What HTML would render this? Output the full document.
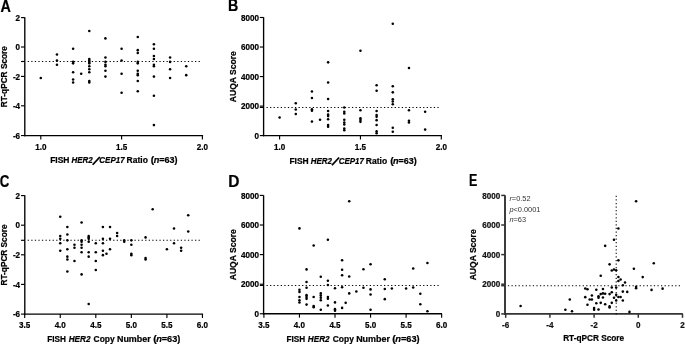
<!DOCTYPE html>
<html lang="en"><head><meta charset="utf-8"><title>Figure</title>
<style>html,body{margin:0;padding:0;background:#fff}svg{display:block}text{font-family:'Liberation Sans', sans-serif}</style></head><body>
<svg width="685" height="344" viewBox="0 0 685 344">
<rect width="685" height="344" fill="#fff"/>
<line x1="24.80" y1="17.30" x2="24.80" y2="136.23" stroke="#000" stroke-width="1.35" />
<line x1="24.12" y1="135.55" x2="203.10" y2="135.55" stroke="#000" stroke-width="1.35" />
<line x1="21.00" y1="17.60" x2="24.80" y2="17.60" stroke="#000" stroke-width="1.15" />
<text x="20.10" y="20.70" font-size="8.8" font-weight="bold" text-anchor="end" fill="#000" stroke="#000" stroke-width="0.22" textLength="4.5" lengthAdjust="spacingAndGlyphs" >2</text>
<line x1="21.00" y1="47.00" x2="24.80" y2="47.00" stroke="#000" stroke-width="1.15" />
<text x="20.10" y="50.10" font-size="8.8" font-weight="bold" text-anchor="end" fill="#000" stroke="#000" stroke-width="0.22" textLength="4.5" lengthAdjust="spacingAndGlyphs" >0</text>
<line x1="21.00" y1="76.40" x2="24.80" y2="76.40" stroke="#000" stroke-width="1.15" />
<text x="20.10" y="79.50" font-size="8.8" font-weight="bold" text-anchor="end" fill="#000" stroke="#000" stroke-width="0.22" textLength="7.2" lengthAdjust="spacingAndGlyphs" >-2</text>
<line x1="21.00" y1="105.80" x2="24.80" y2="105.80" stroke="#000" stroke-width="1.15" />
<text x="20.10" y="108.90" font-size="8.8" font-weight="bold" text-anchor="end" fill="#000" stroke="#000" stroke-width="0.22" textLength="7.2" lengthAdjust="spacingAndGlyphs" >-4</text>
<line x1="21.00" y1="135.55" x2="24.80" y2="135.55" stroke="#000" stroke-width="1.15" />
<text x="20.10" y="138.65" font-size="8.8" font-weight="bold" text-anchor="end" fill="#000" stroke="#000" stroke-width="0.22" textLength="7.2" lengthAdjust="spacingAndGlyphs" >-6</text>
<line x1="40.80" y1="135.55" x2="40.80" y2="139.45" stroke="#000" stroke-width="1.15" />
<text x="40.80" y="150.10" font-size="8.8" font-weight="bold" text-anchor="middle" fill="#000" stroke="#000" stroke-width="0.22" textLength="11.25" lengthAdjust="spacingAndGlyphs" >1.0</text>
<line x1="121.60" y1="135.55" x2="121.60" y2="139.45" stroke="#000" stroke-width="1.15" />
<text x="121.60" y="150.10" font-size="8.8" font-weight="bold" text-anchor="middle" fill="#000" stroke="#000" stroke-width="0.22" textLength="11.25" lengthAdjust="spacingAndGlyphs" >1.5</text>
<line x1="202.40" y1="135.55" x2="202.40" y2="139.45" stroke="#000" stroke-width="1.15" />
<text x="202.40" y="150.10" font-size="8.8" font-weight="bold" text-anchor="middle" fill="#000" stroke="#000" stroke-width="0.22" textLength="11.25" lengthAdjust="spacingAndGlyphs" >2.0</text>
<text font-size="9.0" font-weight="bold" fill="#000" stroke="#000" stroke-width="0.22"><tspan x="50.15" y="163.20" textLength="19.30" lengthAdjust="spacingAndGlyphs">FISH</tspan> <tspan x="71.45" y="163.20" font-style="italic" textLength="21.30" lengthAdjust="spacingAndGlyphs">HER2</tspan><tspan x="91.90" y="164.10" font-size="14" rotate="32" stroke-width="0">/</tspan><tspan x="99.35" y="163.20" font-style="italic" textLength="25.30" lengthAdjust="spacingAndGlyphs">CEP17</tspan> <tspan x="126.55" y="163.20" textLength="21.30" lengthAdjust="spacingAndGlyphs">Ratio</tspan> <tspan x="150.85" y="163.20" textLength="3.40" lengthAdjust="spacingAndGlyphs">(</tspan><tspan x="153.75" y="163.20" font-style="italic" textLength="5.60" lengthAdjust="spacingAndGlyphs">n</tspan><tspan x="159.25" y="163.20" textLength="18.20" lengthAdjust="spacingAndGlyphs">=63)</tspan></text>
<text x="7.00" y="76.68" font-size="9.0" font-weight="bold" text-anchor="middle" fill="#000" stroke="#000" stroke-width="0.22" textLength="61" lengthAdjust="spacingAndGlyphs" transform="rotate(-90 7.00 76.68)">RT-qPCR Score</text>
<text x="0.40" y="11.80" font-size="15.8" font-weight="bold" text-anchor="start" fill="#000" stroke="#000" stroke-width="0.22" textLength="10.4" lengthAdjust="spacingAndGlyphs" >A</text>
<line x1="21.00" y1="61.50" x2="24.80" y2="61.50" stroke="#000" stroke-width="1.15" />
<line x1="27.70" y1="61.50" x2="201.50" y2="61.50" stroke="#000" stroke-width="1.05" stroke-dasharray="1.25 2.31"/>
<g fill="#000"><circle cx="40.80" cy="78.07" r="1.28"/><circle cx="56.96" cy="54.55" r="1.28"/><circle cx="56.96" cy="60.43" r="1.28"/><circle cx="56.96" cy="64.84" r="1.28"/><circle cx="73.12" cy="48.67" r="1.28"/><circle cx="73.12" cy="61.90" r="1.28"/><circle cx="73.12" cy="63.37" r="1.28"/><circle cx="73.12" cy="72.19" r="1.28"/><circle cx="73.12" cy="79.54" r="1.28"/><circle cx="73.12" cy="82.48" r="1.28"/><circle cx="81.20" cy="73.66" r="1.28"/><circle cx="89.28" cy="31.03" r="1.28"/><circle cx="89.28" cy="58.96" r="1.28"/><circle cx="89.28" cy="60.43" r="1.28"/><circle cx="89.28" cy="61.90" r="1.28"/><circle cx="89.28" cy="63.37" r="1.28"/><circle cx="89.28" cy="66.31" r="1.28"/><circle cx="89.28" cy="69.25" r="1.28"/><circle cx="89.28" cy="72.19" r="1.28"/><circle cx="89.28" cy="81.01" r="1.28"/><circle cx="89.28" cy="82.48" r="1.28"/><circle cx="105.44" cy="38.38" r="1.28"/><circle cx="105.44" cy="57.49" r="1.28"/><circle cx="105.44" cy="61.90" r="1.28"/><circle cx="105.44" cy="64.84" r="1.28"/><circle cx="105.44" cy="66.31" r="1.28"/><circle cx="105.44" cy="70.72" r="1.28"/><circle cx="105.44" cy="76.60" r="1.28"/><circle cx="121.60" cy="48.67" r="1.28"/><circle cx="121.60" cy="60.43" r="1.28"/><circle cx="121.60" cy="73.66" r="1.28"/><circle cx="121.60" cy="92.77" r="1.28"/><circle cx="137.76" cy="36.91" r="1.28"/><circle cx="137.76" cy="50.14" r="1.28"/><circle cx="137.76" cy="53.08" r="1.28"/><circle cx="137.76" cy="61.90" r="1.28"/><circle cx="137.76" cy="63.37" r="1.28"/><circle cx="137.76" cy="70.72" r="1.28"/><circle cx="137.76" cy="73.66" r="1.28"/><circle cx="137.76" cy="75.13" r="1.28"/><circle cx="137.76" cy="81.01" r="1.28"/><circle cx="137.76" cy="91.30" r="1.28"/><circle cx="153.92" cy="44.26" r="1.28"/><circle cx="153.92" cy="48.67" r="1.28"/><circle cx="153.92" cy="56.02" r="1.28"/><circle cx="153.92" cy="58.96" r="1.28"/><circle cx="153.92" cy="64.84" r="1.28"/><circle cx="153.92" cy="66.31" r="1.28"/><circle cx="153.92" cy="76.60" r="1.28"/><circle cx="153.92" cy="95.71" r="1.28"/><circle cx="153.92" cy="125.11" r="1.28"/><circle cx="170.08" cy="57.49" r="1.28"/><circle cx="170.08" cy="61.90" r="1.28"/><circle cx="170.08" cy="69.25" r="1.28"/><circle cx="170.08" cy="78.07" r="1.28"/><circle cx="186.24" cy="66.31" r="1.28"/><circle cx="186.24" cy="75.13" r="1.28"/></g>
<line x1="263.60" y1="17.20" x2="263.60" y2="136.28" stroke="#000" stroke-width="1.35" />
<line x1="262.93" y1="135.60" x2="442.00" y2="135.60" stroke="#000" stroke-width="1.35" />
<line x1="259.80" y1="17.49" x2="263.60" y2="17.49" stroke="#000" stroke-width="1.15" />
<text x="258.90" y="20.59" font-size="8.8" font-weight="bold" text-anchor="end" fill="#000" stroke="#000" stroke-width="0.22" textLength="18.01" lengthAdjust="spacingAndGlyphs" >8000</text>
<line x1="259.80" y1="47.03" x2="263.60" y2="47.03" stroke="#000" stroke-width="1.15" />
<text x="258.90" y="50.13" font-size="8.8" font-weight="bold" text-anchor="end" fill="#000" stroke="#000" stroke-width="0.22" textLength="18.01" lengthAdjust="spacingAndGlyphs" >6000</text>
<line x1="259.80" y1="76.57" x2="263.60" y2="76.57" stroke="#000" stroke-width="1.15" />
<text x="258.90" y="79.67" font-size="8.8" font-weight="bold" text-anchor="end" fill="#000" stroke="#000" stroke-width="0.22" textLength="18.01" lengthAdjust="spacingAndGlyphs" >4000</text>
<line x1="259.80" y1="106.11" x2="263.60" y2="106.11" stroke="#000" stroke-width="1.15" />
<text x="258.90" y="109.21" font-size="8.8" font-weight="bold" text-anchor="end" fill="#000" stroke="#000" stroke-width="0.22" textLength="18.01" lengthAdjust="spacingAndGlyphs" >2000</text>
<line x1="259.80" y1="135.60" x2="263.60" y2="135.60" stroke="#000" stroke-width="1.15" />
<text x="258.90" y="138.70" font-size="8.8" font-weight="bold" text-anchor="end" fill="#000" stroke="#000" stroke-width="0.22" textLength="4.5" lengthAdjust="spacingAndGlyphs" >0</text>
<line x1="279.60" y1="135.60" x2="279.60" y2="139.50" stroke="#000" stroke-width="1.15" />
<text x="279.60" y="150.10" font-size="8.8" font-weight="bold" text-anchor="middle" fill="#000" stroke="#000" stroke-width="0.22" textLength="11.25" lengthAdjust="spacingAndGlyphs" >1.0</text>
<line x1="360.45" y1="135.60" x2="360.45" y2="139.50" stroke="#000" stroke-width="1.15" />
<text x="360.45" y="150.10" font-size="8.8" font-weight="bold" text-anchor="middle" fill="#000" stroke="#000" stroke-width="0.22" textLength="11.25" lengthAdjust="spacingAndGlyphs" >1.5</text>
<line x1="441.30" y1="135.60" x2="441.30" y2="139.50" stroke="#000" stroke-width="1.15" />
<text x="441.30" y="150.10" font-size="8.8" font-weight="bold" text-anchor="middle" fill="#000" stroke="#000" stroke-width="0.22" textLength="11.25" lengthAdjust="spacingAndGlyphs" >2.0</text>
<text font-size="9.0" font-weight="bold" fill="#000" stroke="#000" stroke-width="0.22"><tspan x="289.45" y="163.70" textLength="19.30" lengthAdjust="spacingAndGlyphs">FISH</tspan> <tspan x="310.75" y="163.70" font-style="italic" textLength="21.30" lengthAdjust="spacingAndGlyphs">HER2</tspan><tspan x="331.20" y="164.60" font-size="14" rotate="32" stroke-width="0">/</tspan><tspan x="338.65" y="163.70" font-style="italic" textLength="25.30" lengthAdjust="spacingAndGlyphs">CEP17</tspan> <tspan x="365.85" y="163.70" textLength="21.30" lengthAdjust="spacingAndGlyphs">Ratio</tspan> <tspan x="390.15" y="163.70" textLength="3.40" lengthAdjust="spacingAndGlyphs">(</tspan><tspan x="393.05" y="163.70" font-style="italic" textLength="5.60" lengthAdjust="spacingAndGlyphs">n</tspan><tspan x="398.55" y="163.70" textLength="18.20" lengthAdjust="spacingAndGlyphs">=63)</tspan></text>
<text x="236.00" y="76.65" font-size="9.0" font-weight="bold" text-anchor="middle" fill="#000" stroke="#000" stroke-width="0.22" textLength="51" lengthAdjust="spacingAndGlyphs" transform="rotate(-90 236.00 76.65)">AUQA Score</text>
<text x="228.10" y="11.00" font-size="15.8" font-weight="bold" text-anchor="start" fill="#000" stroke="#000" stroke-width="0.22" textLength="10.3" lengthAdjust="spacingAndGlyphs" >B</text>
<line x1="259.80" y1="107.40" x2="263.60" y2="107.40" stroke="#000" stroke-width="1.15" />
<line x1="266.50" y1="107.40" x2="440.50" y2="107.40" stroke="#000" stroke-width="1.05" stroke-dasharray="1.25 2.31"/>
<g fill="#000"><circle cx="279.60" cy="117.42" r="1.28"/><circle cx="295.77" cy="103.16" r="1.28"/><circle cx="295.77" cy="109.48" r="1.28"/><circle cx="295.77" cy="114.04" r="1.28"/><circle cx="311.94" cy="91.55" r="1.28"/><circle cx="311.94" cy="97.94" r="1.28"/><circle cx="311.94" cy="109.19" r="1.28"/><circle cx="311.94" cy="110.66" r="1.28"/><circle cx="311.94" cy="121.61" r="1.28"/><circle cx="320.03" cy="119.70" r="1.28"/><circle cx="328.11" cy="62.37" r="1.28"/><circle cx="328.11" cy="82.58" r="1.28"/><circle cx="328.11" cy="98.97" r="1.28"/><circle cx="328.11" cy="110.95" r="1.28"/><circle cx="328.11" cy="114.63" r="1.28"/><circle cx="328.11" cy="116.10" r="1.28"/><circle cx="328.11" cy="119.26" r="1.28"/><circle cx="328.11" cy="125.09" r="1.28"/><circle cx="328.11" cy="126.83" r="1.28"/><circle cx="344.28" cy="107.57" r="1.28"/><circle cx="344.28" cy="111.69" r="1.28"/><circle cx="344.28" cy="113.45" r="1.28"/><circle cx="344.28" cy="119.70" r="1.28"/><circle cx="344.28" cy="122.61" r="1.28"/><circle cx="344.28" cy="124.50" r="1.28"/><circle cx="344.28" cy="128.44" r="1.28"/><circle cx="344.28" cy="130.21" r="1.28"/><circle cx="360.45" cy="50.83" r="1.28"/><circle cx="360.45" cy="110.22" r="1.28"/><circle cx="360.45" cy="118.23" r="1.28"/><circle cx="360.45" cy="120.12" r="1.28"/><circle cx="360.45" cy="121.87" r="1.28"/><circle cx="376.62" cy="85.23" r="1.28"/><circle cx="376.62" cy="90.81" r="1.28"/><circle cx="376.62" cy="110.95" r="1.28"/><circle cx="376.62" cy="115.07" r="1.28"/><circle cx="376.62" cy="116.76" r="1.28"/><circle cx="376.62" cy="120.14" r="1.28"/><circle cx="376.62" cy="125.09" r="1.28"/><circle cx="376.62" cy="131.38" r="1.28"/><circle cx="376.62" cy="133.29" r="1.28"/><circle cx="392.79" cy="23.78" r="1.28"/><circle cx="392.79" cy="86.25" r="1.28"/><circle cx="392.79" cy="92.36" r="1.28"/><circle cx="392.79" cy="99.22" r="1.28"/><circle cx="392.79" cy="101.47" r="1.28"/><circle cx="392.79" cy="104.34" r="1.28"/><circle cx="392.79" cy="127.71" r="1.28"/><circle cx="392.79" cy="131.82" r="1.28"/><circle cx="408.96" cy="68.03" r="1.28"/><circle cx="408.96" cy="110.22" r="1.28"/><circle cx="408.96" cy="120.80" r="1.28"/><circle cx="408.96" cy="122.42" r="1.28"/><circle cx="425.13" cy="111.69" r="1.28"/><circle cx="425.13" cy="129.62" r="1.28"/></g>
<line x1="24.80" y1="195.30" x2="24.80" y2="314.78" stroke="#000" stroke-width="1.35" />
<line x1="24.12" y1="314.10" x2="203.10" y2="314.10" stroke="#000" stroke-width="1.35" />
<line x1="21.00" y1="195.60" x2="24.80" y2="195.60" stroke="#000" stroke-width="1.15" />
<text x="20.10" y="198.70" font-size="8.8" font-weight="bold" text-anchor="end" fill="#000" stroke="#000" stroke-width="0.22" textLength="4.5" lengthAdjust="spacingAndGlyphs" >2</text>
<line x1="21.00" y1="225.20" x2="24.80" y2="225.20" stroke="#000" stroke-width="1.15" />
<text x="20.10" y="228.30" font-size="8.8" font-weight="bold" text-anchor="end" fill="#000" stroke="#000" stroke-width="0.22" textLength="4.5" lengthAdjust="spacingAndGlyphs" >0</text>
<line x1="21.00" y1="254.80" x2="24.80" y2="254.80" stroke="#000" stroke-width="1.15" />
<text x="20.10" y="257.90" font-size="8.8" font-weight="bold" text-anchor="end" fill="#000" stroke="#000" stroke-width="0.22" textLength="7.2" lengthAdjust="spacingAndGlyphs" >-2</text>
<line x1="21.00" y1="284.40" x2="24.80" y2="284.40" stroke="#000" stroke-width="1.15" />
<text x="20.10" y="287.50" font-size="8.8" font-weight="bold" text-anchor="end" fill="#000" stroke="#000" stroke-width="0.22" textLength="7.2" lengthAdjust="spacingAndGlyphs" >-4</text>
<line x1="21.00" y1="314.10" x2="24.80" y2="314.10" stroke="#000" stroke-width="1.15" />
<text x="20.10" y="317.20" font-size="8.8" font-weight="bold" text-anchor="end" fill="#000" stroke="#000" stroke-width="0.22" textLength="7.2" lengthAdjust="spacingAndGlyphs" >-6</text>
<line x1="24.70" y1="314.10" x2="24.70" y2="318.00" stroke="#000" stroke-width="1.15" />
<text x="24.70" y="328.20" font-size="8.8" font-weight="bold" text-anchor="middle" fill="#000" stroke="#000" stroke-width="0.22" textLength="11.25" lengthAdjust="spacingAndGlyphs" >3.5</text>
<line x1="60.25" y1="314.10" x2="60.25" y2="318.00" stroke="#000" stroke-width="1.15" />
<text x="60.25" y="328.20" font-size="8.8" font-weight="bold" text-anchor="middle" fill="#000" stroke="#000" stroke-width="0.22" textLength="11.25" lengthAdjust="spacingAndGlyphs" >4.0</text>
<line x1="95.80" y1="314.10" x2="95.80" y2="318.00" stroke="#000" stroke-width="1.15" />
<text x="95.80" y="328.20" font-size="8.8" font-weight="bold" text-anchor="middle" fill="#000" stroke="#000" stroke-width="0.22" textLength="11.25" lengthAdjust="spacingAndGlyphs" >4.5</text>
<line x1="131.35" y1="314.10" x2="131.35" y2="318.00" stroke="#000" stroke-width="1.15" />
<text x="131.35" y="328.20" font-size="8.8" font-weight="bold" text-anchor="middle" fill="#000" stroke="#000" stroke-width="0.22" textLength="11.25" lengthAdjust="spacingAndGlyphs" >5.0</text>
<line x1="166.90" y1="314.10" x2="166.90" y2="318.00" stroke="#000" stroke-width="1.15" />
<text x="166.90" y="328.20" font-size="8.8" font-weight="bold" text-anchor="middle" fill="#000" stroke="#000" stroke-width="0.22" textLength="11.25" lengthAdjust="spacingAndGlyphs" >5.5</text>
<line x1="202.45" y1="314.10" x2="202.45" y2="318.00" stroke="#000" stroke-width="1.15" />
<text x="202.45" y="328.20" font-size="8.8" font-weight="bold" text-anchor="middle" fill="#000" stroke="#000" stroke-width="0.22" textLength="11.25" lengthAdjust="spacingAndGlyphs" >6.0</text>
<text font-size="9.0" font-weight="bold" fill="#000" stroke="#000" stroke-width="0.22"><tspan x="47.25" y="341.70" textLength="18.70" lengthAdjust="spacingAndGlyphs">FISH</tspan> <tspan x="68.65" y="341.70" font-style="italic" textLength="21.80" lengthAdjust="spacingAndGlyphs">HER2</tspan> <tspan x="93.55" y="341.70" textLength="21.10" lengthAdjust="spacingAndGlyphs">Copy</tspan> <tspan x="116.95" y="341.70" textLength="33.80" lengthAdjust="spacingAndGlyphs">Number</tspan> <tspan x="153.15" y="341.70" textLength="3.50" lengthAdjust="spacingAndGlyphs">(</tspan><tspan x="156.15" y="341.70" font-style="italic" textLength="5.70" lengthAdjust="spacingAndGlyphs">n</tspan><tspan x="161.75" y="341.70" textLength="18.60" lengthAdjust="spacingAndGlyphs">=63)</tspan></text>
<text x="7.00" y="254.95" font-size="9.0" font-weight="bold" text-anchor="middle" fill="#000" stroke="#000" stroke-width="0.22" textLength="61" lengthAdjust="spacingAndGlyphs" transform="rotate(-90 7.00 254.95)">RT-qPCR Score</text>
<text x="-0.20" y="186.60" font-size="15.8" font-weight="bold" text-anchor="start" fill="#000" stroke="#000" stroke-width="0.22" textLength="9.6" lengthAdjust="spacingAndGlyphs" >C</text>
<line x1="21.00" y1="240.30" x2="24.80" y2="240.30" stroke="#000" stroke-width="1.15" />
<line x1="27.70" y1="240.30" x2="201.50" y2="240.30" stroke="#000" stroke-width="1.05" stroke-dasharray="1.25 2.31"/>
<g fill="#000"><circle cx="60.25" cy="216.67" r="1.28"/><circle cx="60.25" cy="235.91" r="1.28"/><circle cx="60.25" cy="238.87" r="1.28"/><circle cx="60.25" cy="243.31" r="1.28"/><circle cx="60.25" cy="250.71" r="1.28"/><circle cx="67.36" cy="227.03" r="1.28"/><circle cx="67.36" cy="234.43" r="1.28"/><circle cx="67.36" cy="240.35" r="1.28"/><circle cx="67.36" cy="249.23" r="1.28"/><circle cx="67.36" cy="256.63" r="1.28"/><circle cx="67.36" cy="259.59" r="1.28"/><circle cx="67.36" cy="271.43" r="1.28"/><circle cx="74.47" cy="244.79" r="1.28"/><circle cx="74.47" cy="247.75" r="1.28"/><circle cx="74.47" cy="261.07" r="1.28"/><circle cx="81.58" cy="222.59" r="1.28"/><circle cx="81.58" cy="240.35" r="1.28"/><circle cx="81.58" cy="241.83" r="1.28"/><circle cx="81.58" cy="244.79" r="1.28"/><circle cx="81.58" cy="247.75" r="1.28"/><circle cx="81.58" cy="252.19" r="1.28"/><circle cx="81.58" cy="274.39" r="1.28"/><circle cx="88.69" cy="235.91" r="1.28"/><circle cx="88.69" cy="237.39" r="1.28"/><circle cx="88.69" cy="238.87" r="1.28"/><circle cx="88.69" cy="241.83" r="1.28"/><circle cx="88.69" cy="252.19" r="1.28"/><circle cx="88.69" cy="256.63" r="1.28"/><circle cx="88.69" cy="303.99" r="1.28"/><circle cx="95.80" cy="243.31" r="1.28"/><circle cx="95.80" cy="252.19" r="1.28"/><circle cx="95.80" cy="261.07" r="1.28"/><circle cx="95.80" cy="269.95" r="1.28"/><circle cx="102.91" cy="227.03" r="1.28"/><circle cx="102.91" cy="238.87" r="1.28"/><circle cx="102.91" cy="243.31" r="1.28"/><circle cx="102.91" cy="250.71" r="1.28"/><circle cx="102.91" cy="255.15" r="1.28"/><circle cx="106.47" cy="253.67" r="1.28"/><circle cx="110.02" cy="227.03" r="1.28"/><circle cx="110.02" cy="238.87" r="1.28"/><circle cx="110.02" cy="249.23" r="1.28"/><circle cx="117.13" cy="232.95" r="1.28"/><circle cx="117.13" cy="235.91" r="1.28"/><circle cx="124.24" cy="240.35" r="1.28"/><circle cx="124.24" cy="241.83" r="1.28"/><circle cx="131.35" cy="240.35" r="1.28"/><circle cx="131.35" cy="244.79" r="1.28"/><circle cx="131.35" cy="253.67" r="1.28"/><circle cx="131.35" cy="255.15" r="1.28"/><circle cx="145.57" cy="237.39" r="1.28"/><circle cx="145.57" cy="258.11" r="1.28"/><circle cx="145.57" cy="259.59" r="1.28"/><circle cx="152.68" cy="209.27" r="1.28"/><circle cx="166.90" cy="249.23" r="1.28"/><circle cx="174.01" cy="228.51" r="1.28"/><circle cx="174.01" cy="243.31" r="1.28"/><circle cx="181.12" cy="247.75" r="1.28"/><circle cx="181.12" cy="250.71" r="1.28"/><circle cx="188.23" cy="215.19" r="1.28"/><circle cx="188.23" cy="231.47" r="1.28"/></g>
<line x1="263.60" y1="195.30" x2="263.60" y2="314.43" stroke="#000" stroke-width="1.35" />
<line x1="262.93" y1="313.75" x2="442.00" y2="313.75" stroke="#000" stroke-width="1.35" />
<line x1="259.80" y1="195.40" x2="263.60" y2="195.40" stroke="#000" stroke-width="1.15" />
<text x="258.90" y="198.50" font-size="8.8" font-weight="bold" text-anchor="end" fill="#000" stroke="#000" stroke-width="0.22" textLength="18.01" lengthAdjust="spacingAndGlyphs" >8000</text>
<line x1="259.80" y1="225.00" x2="263.60" y2="225.00" stroke="#000" stroke-width="1.15" />
<text x="258.90" y="228.10" font-size="8.8" font-weight="bold" text-anchor="end" fill="#000" stroke="#000" stroke-width="0.22" textLength="18.01" lengthAdjust="spacingAndGlyphs" >6000</text>
<line x1="259.80" y1="254.60" x2="263.60" y2="254.60" stroke="#000" stroke-width="1.15" />
<text x="258.90" y="257.70" font-size="8.8" font-weight="bold" text-anchor="end" fill="#000" stroke="#000" stroke-width="0.22" textLength="18.01" lengthAdjust="spacingAndGlyphs" >4000</text>
<line x1="259.80" y1="284.20" x2="263.60" y2="284.20" stroke="#000" stroke-width="1.15" />
<text x="258.90" y="287.30" font-size="8.8" font-weight="bold" text-anchor="end" fill="#000" stroke="#000" stroke-width="0.22" textLength="18.01" lengthAdjust="spacingAndGlyphs" >2000</text>
<line x1="259.80" y1="313.75" x2="263.60" y2="313.75" stroke="#000" stroke-width="1.15" />
<text x="258.90" y="316.85" font-size="8.8" font-weight="bold" text-anchor="end" fill="#000" stroke="#000" stroke-width="0.22" textLength="4.5" lengthAdjust="spacingAndGlyphs" >0</text>
<line x1="263.90" y1="313.75" x2="263.90" y2="317.65" stroke="#000" stroke-width="1.15" />
<text x="263.90" y="328.20" font-size="8.8" font-weight="bold" text-anchor="middle" fill="#000" stroke="#000" stroke-width="0.22" textLength="11.25" lengthAdjust="spacingAndGlyphs" >3.5</text>
<line x1="299.45" y1="313.75" x2="299.45" y2="317.65" stroke="#000" stroke-width="1.15" />
<text x="299.45" y="328.20" font-size="8.8" font-weight="bold" text-anchor="middle" fill="#000" stroke="#000" stroke-width="0.22" textLength="11.25" lengthAdjust="spacingAndGlyphs" >4.0</text>
<line x1="335.00" y1="313.75" x2="335.00" y2="317.65" stroke="#000" stroke-width="1.15" />
<text x="335.00" y="328.20" font-size="8.8" font-weight="bold" text-anchor="middle" fill="#000" stroke="#000" stroke-width="0.22" textLength="11.25" lengthAdjust="spacingAndGlyphs" >4.5</text>
<line x1="370.55" y1="313.75" x2="370.55" y2="317.65" stroke="#000" stroke-width="1.15" />
<text x="370.55" y="328.20" font-size="8.8" font-weight="bold" text-anchor="middle" fill="#000" stroke="#000" stroke-width="0.22" textLength="11.25" lengthAdjust="spacingAndGlyphs" >5.0</text>
<line x1="406.10" y1="313.75" x2="406.10" y2="317.65" stroke="#000" stroke-width="1.15" />
<text x="406.10" y="328.20" font-size="8.8" font-weight="bold" text-anchor="middle" fill="#000" stroke="#000" stroke-width="0.22" textLength="11.25" lengthAdjust="spacingAndGlyphs" >5.5</text>
<line x1="441.65" y1="313.75" x2="441.65" y2="317.65" stroke="#000" stroke-width="1.15" />
<text x="441.65" y="328.20" font-size="8.8" font-weight="bold" text-anchor="middle" fill="#000" stroke="#000" stroke-width="0.22" textLength="11.25" lengthAdjust="spacingAndGlyphs" >6.0</text>
<text font-size="9.0" font-weight="bold" fill="#000" stroke="#000" stroke-width="0.22"><tspan x="286.45" y="341.70" textLength="18.70" lengthAdjust="spacingAndGlyphs">FISH</tspan> <tspan x="307.85" y="341.70" font-style="italic" textLength="21.80" lengthAdjust="spacingAndGlyphs">HER2</tspan> <tspan x="332.75" y="341.70" textLength="21.10" lengthAdjust="spacingAndGlyphs">Copy</tspan> <tspan x="356.15" y="341.70" textLength="33.80" lengthAdjust="spacingAndGlyphs">Number</tspan> <tspan x="392.35" y="341.70" textLength="3.50" lengthAdjust="spacingAndGlyphs">(</tspan><tspan x="395.35" y="341.70" font-style="italic" textLength="5.70" lengthAdjust="spacingAndGlyphs">n</tspan><tspan x="400.95" y="341.70" textLength="18.60" lengthAdjust="spacingAndGlyphs">=63)</tspan></text>
<text x="236.00" y="254.78" font-size="9.0" font-weight="bold" text-anchor="middle" fill="#000" stroke="#000" stroke-width="0.22" textLength="51" lengthAdjust="spacingAndGlyphs" transform="rotate(-90 236.00 254.78)">AUQA Score</text>
<text x="228.30" y="186.50" font-size="15.8" font-weight="bold" text-anchor="start" fill="#000" stroke="#000" stroke-width="0.22" textLength="11.2" lengthAdjust="spacingAndGlyphs" >D</text>
<line x1="259.80" y1="285.40" x2="263.60" y2="285.40" stroke="#000" stroke-width="1.15" />
<line x1="266.50" y1="285.40" x2="440.50" y2="285.40" stroke="#000" stroke-width="1.05" stroke-dasharray="1.25 2.31"/>
<g fill="#000"><circle cx="299.45" cy="228.40" r="1.28"/><circle cx="299.45" cy="289.68" r="1.28"/><circle cx="299.45" cy="291.90" r="1.28"/><circle cx="299.45" cy="297.00" r="1.28"/><circle cx="299.45" cy="300.18" r="1.28"/><circle cx="299.45" cy="302.55" r="1.28"/><circle cx="306.56" cy="269.40" r="1.28"/><circle cx="306.56" cy="281.98" r="1.28"/><circle cx="306.56" cy="287.83" r="1.28"/><circle cx="306.56" cy="295.15" r="1.28"/><circle cx="306.56" cy="297.00" r="1.28"/><circle cx="306.56" cy="298.85" r="1.28"/><circle cx="306.56" cy="304.62" r="1.28"/><circle cx="313.67" cy="245.57" r="1.28"/><circle cx="313.67" cy="297.00" r="1.28"/><circle cx="313.67" cy="305.96" r="1.28"/><circle cx="313.67" cy="307.14" r="1.28"/><circle cx="320.78" cy="276.80" r="1.28"/><circle cx="320.78" cy="293.38" r="1.28"/><circle cx="320.78" cy="295.60" r="1.28"/><circle cx="320.78" cy="297.74" r="1.28"/><circle cx="320.78" cy="300.18" r="1.28"/><circle cx="320.78" cy="309.66" r="1.28"/><circle cx="327.89" cy="239.80" r="1.28"/><circle cx="327.89" cy="280.80" r="1.28"/><circle cx="327.89" cy="285.09" r="1.28"/><circle cx="327.89" cy="297.00" r="1.28"/><circle cx="327.89" cy="298.78" r="1.28"/><circle cx="327.89" cy="305.51" r="1.28"/><circle cx="335.00" cy="288.20" r="1.28"/><circle cx="335.00" cy="302.40" r="1.28"/><circle cx="335.00" cy="309.14" r="1.28"/><circle cx="335.00" cy="310.84" r="1.28"/><circle cx="342.11" cy="260.22" r="1.28"/><circle cx="342.11" cy="269.77" r="1.28"/><circle cx="342.11" cy="275.32" r="1.28"/><circle cx="342.11" cy="287.16" r="1.28"/><circle cx="342.11" cy="307.88" r="1.28"/><circle cx="345.66" cy="302.85" r="1.28"/><circle cx="349.22" cy="201.32" r="1.28"/><circle cx="349.22" cy="276.58" r="1.28"/><circle cx="349.22" cy="293.38" r="1.28"/><circle cx="356.33" cy="291.45" r="1.28"/><circle cx="363.44" cy="269.25" r="1.28"/><circle cx="363.44" cy="287.75" r="1.28"/><circle cx="370.55" cy="264.22" r="1.28"/><circle cx="370.55" cy="289.38" r="1.28"/><circle cx="370.55" cy="294.41" r="1.28"/><circle cx="370.55" cy="309.66" r="1.28"/><circle cx="384.77" cy="279.32" r="1.28"/><circle cx="384.77" cy="288.94" r="1.28"/><circle cx="384.77" cy="299.15" r="1.28"/><circle cx="391.88" cy="288.49" r="1.28"/><circle cx="406.10" cy="288.49" r="1.28"/><circle cx="413.21" cy="268.51" r="1.28"/><circle cx="413.21" cy="287.46" r="1.28"/><circle cx="420.32" cy="293.82" r="1.28"/><circle cx="420.32" cy="304.18" r="1.28"/><circle cx="427.43" cy="262.96" r="1.28"/><circle cx="427.43" cy="311.28" r="1.28"/></g>
<line x1="505.00" y1="195.30" x2="505.00" y2="314.85" stroke="#333" stroke-width="1.9" />
<line x1="504.05" y1="313.90" x2="682.80" y2="313.90" stroke="#333" stroke-width="1.9" />
<line x1="501.20" y1="195.40" x2="505.00" y2="195.40" stroke="#333" stroke-width="1.5" />
<text x="500.30" y="198.50" font-size="8.8" font-weight="bold" text-anchor="end" fill="#111" stroke="#111" stroke-width="0.22" textLength="18.01" lengthAdjust="spacingAndGlyphs" >8000</text>
<line x1="501.20" y1="225.00" x2="505.00" y2="225.00" stroke="#333" stroke-width="1.5" />
<text x="500.30" y="228.10" font-size="8.8" font-weight="bold" text-anchor="end" fill="#111" stroke="#111" stroke-width="0.22" textLength="18.01" lengthAdjust="spacingAndGlyphs" >6000</text>
<line x1="501.20" y1="254.60" x2="505.00" y2="254.60" stroke="#333" stroke-width="1.5" />
<text x="500.30" y="257.70" font-size="8.8" font-weight="bold" text-anchor="end" fill="#111" stroke="#111" stroke-width="0.22" textLength="18.01" lengthAdjust="spacingAndGlyphs" >4000</text>
<line x1="501.20" y1="284.20" x2="505.00" y2="284.20" stroke="#333" stroke-width="1.5" />
<text x="500.30" y="287.30" font-size="8.8" font-weight="bold" text-anchor="end" fill="#111" stroke="#111" stroke-width="0.22" textLength="18.01" lengthAdjust="spacingAndGlyphs" >2000</text>
<line x1="501.20" y1="313.90" x2="505.00" y2="313.90" stroke="#333" stroke-width="1.5" />
<text x="500.30" y="317.00" font-size="8.8" font-weight="bold" text-anchor="end" fill="#111" stroke="#111" stroke-width="0.22" textLength="4.5" lengthAdjust="spacingAndGlyphs" >0</text>
<line x1="505.70" y1="313.90" x2="505.70" y2="317.80" stroke="#333" stroke-width="1.5" />
<text x="505.70" y="328.20" font-size="8.8" font-weight="bold" text-anchor="middle" fill="#111" stroke="#111" stroke-width="0.22" textLength="7.2" lengthAdjust="spacingAndGlyphs" >-6</text>
<line x1="549.90" y1="313.90" x2="549.90" y2="317.80" stroke="#333" stroke-width="1.5" />
<text x="549.90" y="328.20" font-size="8.8" font-weight="bold" text-anchor="middle" fill="#111" stroke="#111" stroke-width="0.22" textLength="7.2" lengthAdjust="spacingAndGlyphs" >-4</text>
<line x1="594.10" y1="313.90" x2="594.10" y2="317.80" stroke="#333" stroke-width="1.5" />
<text x="594.10" y="328.20" font-size="8.8" font-weight="bold" text-anchor="middle" fill="#111" stroke="#111" stroke-width="0.22" textLength="7.2" lengthAdjust="spacingAndGlyphs" >-2</text>
<line x1="638.30" y1="313.90" x2="638.30" y2="317.80" stroke="#333" stroke-width="1.5" />
<text x="638.30" y="328.20" font-size="8.8" font-weight="bold" text-anchor="middle" fill="#111" stroke="#111" stroke-width="0.22" textLength="4.5" lengthAdjust="spacingAndGlyphs" >0</text>
<line x1="682.50" y1="313.90" x2="682.50" y2="317.80" stroke="#333" stroke-width="1.5" />
<text x="682.50" y="328.20" font-size="8.8" font-weight="bold" text-anchor="middle" fill="#111" stroke="#111" stroke-width="0.22" textLength="4.5" lengthAdjust="spacingAndGlyphs" >2</text>
<text x="593.65" y="341.10" font-size="9.0" font-weight="bold" text-anchor="middle" fill="#000" stroke="#000" stroke-width="0.22" textLength="61" lengthAdjust="spacingAndGlyphs" >RT-qPCR Score</text>
<text x="476.30" y="254.85" font-size="9.0" font-weight="bold" text-anchor="middle" fill="#000" stroke="#000" stroke-width="0.22" textLength="51" lengthAdjust="spacingAndGlyphs" transform="rotate(-90 476.30 254.85)">AUQA Score</text>
<text x="469.00" y="186.30" font-size="15.8" font-weight="bold" text-anchor="start" fill="#000" stroke="#000" stroke-width="0.22" textLength="8.3" lengthAdjust="spacingAndGlyphs" >E</text>
<line x1="501.20" y1="285.70" x2="505.00" y2="285.70" stroke="#333" stroke-width="1.5" />
<line x1="507.90" y1="285.70" x2="680.00" y2="285.70" stroke="#000" stroke-width="1.05" stroke-dasharray="1.25 2.31"/>
<line x1="616.20" y1="195.80" x2="616.20" y2="316.40" stroke="#000" stroke-width="1.05" stroke-dasharray="1.25 2.31"/>
<g fill="#000"><circle cx="636.09" cy="201.32" r="1.28"/><circle cx="618.41" cy="228.55" r="1.28"/><circle cx="613.99" cy="239.80" r="1.28"/><circle cx="605.15" cy="245.87" r="1.28"/><circle cx="618.41" cy="260.37" r="1.28"/><circle cx="609.57" cy="264.37" r="1.28"/><circle cx="653.77" cy="263.26" r="1.28"/><circle cx="633.88" cy="268.81" r="1.28"/><circle cx="611.78" cy="270.44" r="1.28"/><circle cx="613.99" cy="269.55" r="1.28"/><circle cx="616.20" cy="270.29" r="1.28"/><circle cx="600.73" cy="275.69" r="1.28"/><circle cx="618.41" cy="276.95" r="1.28"/><circle cx="642.72" cy="277.10" r="1.28"/><circle cx="620.62" cy="279.46" r="1.28"/><circle cx="618.41" cy="281.09" r="1.28"/><circle cx="625.04" cy="282.42" r="1.28"/><circle cx="622.83" cy="285.31" r="1.28"/><circle cx="616.20" cy="287.46" r="1.28"/><circle cx="611.78" cy="287.46" r="1.28"/><circle cx="636.09" cy="286.86" r="1.28"/><circle cx="636.09" cy="288.34" r="1.28"/><circle cx="602.94" cy="288.94" r="1.28"/><circle cx="596.31" cy="289.68" r="1.28"/><circle cx="587.47" cy="289.16" r="1.28"/><circle cx="585.26" cy="288.49" r="1.28"/><circle cx="651.56" cy="289.90" r="1.28"/><circle cx="662.61" cy="288.64" r="1.28"/><circle cx="622.83" cy="291.60" r="1.28"/><circle cx="627.25" cy="291.90" r="1.28"/><circle cx="611.78" cy="292.34" r="1.28"/><circle cx="609.57" cy="294.12" r="1.28"/><circle cx="600.73" cy="294.12" r="1.28"/><circle cx="602.94" cy="293.38" r="1.28"/><circle cx="605.15" cy="293.82" r="1.28"/><circle cx="591.89" cy="295.52" r="1.28"/><circle cx="598.52" cy="296.26" r="1.28"/><circle cx="598.52" cy="297.74" r="1.28"/><circle cx="602.94" cy="297.45" r="1.28"/><circle cx="616.20" cy="294.86" r="1.28"/><circle cx="618.41" cy="297.00" r="1.28"/><circle cx="620.62" cy="297.00" r="1.28"/><circle cx="613.99" cy="297.74" r="1.28"/><circle cx="585.26" cy="297.15" r="1.28"/><circle cx="589.68" cy="299.59" r="1.28"/><circle cx="591.89" cy="299.59" r="1.28"/><circle cx="616.20" cy="300.41" r="1.28"/><circle cx="622.83" cy="300.41" r="1.28"/><circle cx="611.78" cy="302.85" r="1.28"/><circle cx="596.31" cy="303.29" r="1.28"/><circle cx="600.73" cy="302.85" r="1.28"/><circle cx="605.15" cy="304.33" r="1.28"/><circle cx="587.47" cy="304.77" r="1.28"/><circle cx="609.57" cy="306.40" r="1.28"/><circle cx="609.57" cy="307.44" r="1.28"/><circle cx="594.10" cy="307.95" r="1.28"/><circle cx="594.10" cy="309.70" r="1.28"/><circle cx="598.52" cy="309.43" r="1.28"/><circle cx="629.46" cy="311.88" r="1.28"/><circle cx="520.62" cy="306.03" r="1.28"/><circle cx="565.37" cy="309.70" r="1.28"/><circle cx="572.00" cy="311.21" r="1.28"/><circle cx="569.79" cy="299.52" r="1.28"/></g>
<text x="509.4" y="201.4" font-size="7.4" fill="#333"><tspan font-style="italic">r</tspan>=0.52</text>
<text x="509.4" y="211.6" font-size="7.4" fill="#333"><tspan font-style="italic">p</tspan>&lt;0.0001</text>
<text x="509.4" y="221.6" font-size="7.4" fill="#333"><tspan font-style="italic">n</tspan>=63</text>
</svg></body></html>
